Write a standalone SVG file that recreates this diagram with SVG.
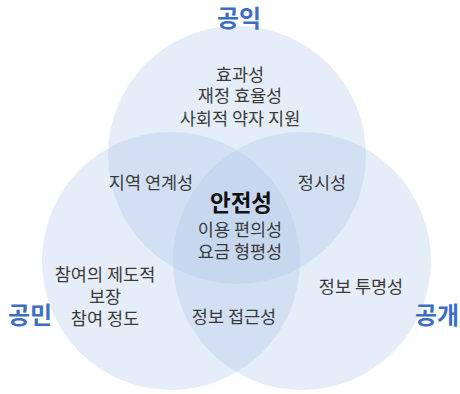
<svg xmlns="http://www.w3.org/2000/svg" width="460" height="394" viewBox="0 0 460 394">
<style>
.c{fill:#a8c4e8;fill-opacity:0.3;stroke:none}
.t{font-family:"Noto Sans CJK KR","Noto Sans",sans-serif;font-size:17.5px;fill:#3a3a3a;text-anchor:middle}
.h{font-family:"Noto Sans CJK KR","Noto Sans",sans-serif;font-size:24px;font-weight:bold;fill:#3d6ec4;text-anchor:middle}
.b{font-family:"Noto Sans CJK KR","Noto Sans",sans-serif;font-size:22.5px;font-weight:bold;fill:#111;text-anchor:middle}
</style>
<rect width="460" height="394" fill="#ffffff"/>
<g id="circle-public-interest"><circle class="c" cx="237" cy="155" r="129"/></g>
<g id="circle-citizen"><circle class="c" cx="171" cy="261" r="129"/></g>
<g id="circle-open"><circle class="c" cx="302" cy="261" r="129"/></g>
<g id="labels">
<text class="h" x="239" y="27">공익</text>
<text class="h" x="30" y="324">공민</text>
<text class="h" x="437" y="324">공개</text>
</g>
<g id="top-only">
<text class="t" x="240" y="81">효과성</text>
<text class="t" x="240" y="102">재정 효율성</text>
<text class="t" x="240" y="125">사회적 약자 지원</text>
</g>
<g id="top-left"><text class="t" x="151" y="189">지역 연계성</text></g>
<g id="top-right"><text class="t" x="322" y="189">정시성</text></g>
<g id="center">
<text class="b" x="241" y="211">안전성</text>
<text class="t" x="240" y="236">이용 편의성</text>
<text class="t" x="240" y="258">요금 형평성</text>
</g>
<g id="left-only">
<text class="t" x="105" y="281">참여의 제도적</text>
<text class="t" x="105" y="303">보장</text>
<text class="t" x="105" y="325">참여 정도</text>
</g>
<g id="left-right"><text class="t" x="234" y="323">정보 접근성</text></g>
<g id="right-only"><text class="t" x="361" y="293">정보 투명성</text></g>
<g id="connectors"></g>
</svg>
